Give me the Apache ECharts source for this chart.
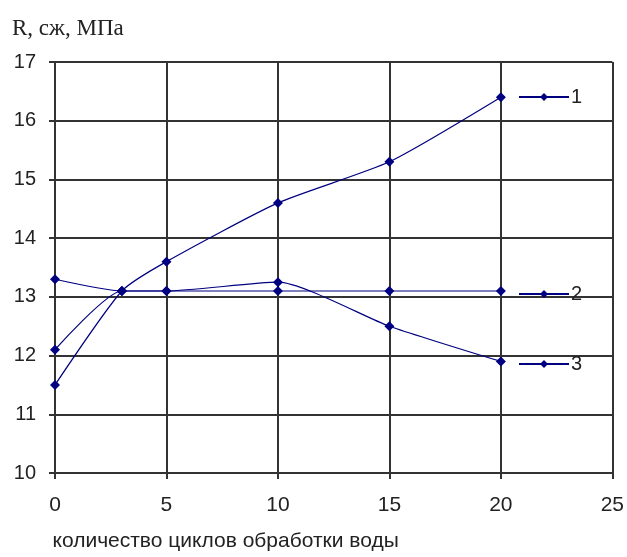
<!DOCTYPE html>
<html>
<head>
<meta charset="utf-8">
<script src="https://cdn.jsdelivr.net/npm/echarts@6/dist/echarts.min.js"></script>
<style>html,body{margin:0;padding:0;background:#fff}#c{width:627px;height:557px}</style>
</head>
<body>
<div id="c"></div>
<script>
const cycles = [0, 3, 5, 10, 15, 20];
const series1 = [11.5, 13.1, 13.6, 14.6, 15.3, 16.4];
const series2 = [12.1, 13.1, 13.1, 13.1, 13.1, 13.1];
const series3 = [13.3, 13.1, 13.1, 13.25, 12.5, 11.9];
const seriesNames = ['1', '2', '3'];
const yAxisTitle = 'R, сж, МПа';
const xAxisTitle = 'количество циклов обработки воды';

const pair = (ys) => cycles.map((x, i) => [x, ys[i]]);
const lineColor = '#000080';
const gridColor = '#333';
const font = 'Liberation Sans, Arial, sans-serif';

const chart = echarts.init(document.getElementById('c'), null, {renderer: 'canvas'});
const mkSeries = (name, ys) => ({
  name: name, type: 'line', data: pair(ys), smooth: 0.2,
  symbol: 'diamond', symbolSize: 10,
  lineStyle: {color: lineColor, width: 1.2},
  itemStyle: {color: lineColor},
  emphasis: {disabled: true}
});
const mkLegend = (name, top) => ({
  data: [name], left: 518, top: top, orient: 'vertical',
  itemWidth: 50, itemHeight: 10, itemGap: 0, padding: 0,
  textStyle: {fontFamily: font, fontSize: 20, color: '#222', padding: [0, 0, 0, -3]},
  selectedMode: false
});
chart.setOption({
  animation: false,
  grid: {left: 55, top: 62, width: 558, height: 416, containLabel: false},
  legend: [mkLegend('1', 87), mkLegend('2', 284), mkLegend('3', 354)],
  xAxis: {
    type: 'value', min: 0, max: 25, interval: 5,
    name: xAxisTitle, nameLocation: 'middle', nameGap: 58,
    nameTextStyle: {fontFamily: font, fontSize: 21, color: '#222', padding: [0, 216, 0, 0]},
    axisLine: {show: true, lineStyle: {color: gridColor, width: 2}},
    axisTick: {show: true, length: 6, lineStyle: {color: gridColor, width: 2}},
    axisLabel: {margin: 22, fontFamily: font, fontSize: 21, color: '#222'},
    splitLine: {show: true, lineStyle: {color: gridColor, width: 2}}
  },
  yAxis: {
    type: 'value', min: 10, max: 17, interval: 1,
    name: yAxisTitle, nameLocation: 'end', nameGap: 22,
    nameTextStyle: {fontFamily: 'Liberation Serif, Times New Roman, serif', fontSize: 23, color: '#222', align: 'left', padding: [0, 0, 0, -43]},
    axisLine: {show: true, lineStyle: {color: gridColor, width: 2}},
    axisTick: {show: true, length: 6, lineStyle: {color: gridColor, width: 2}},
    axisLabel: {margin: 19, fontFamily: font, fontSize: 20, color: '#222'},
    splitLine: {show: true, lineStyle: {color: gridColor, width: 2}}
  },
  series: [mkSeries(seriesNames[0], series1), mkSeries(seriesNames[1], series2), mkSeries(seriesNames[2], series3)]
});
</script>
</body>
</html>
